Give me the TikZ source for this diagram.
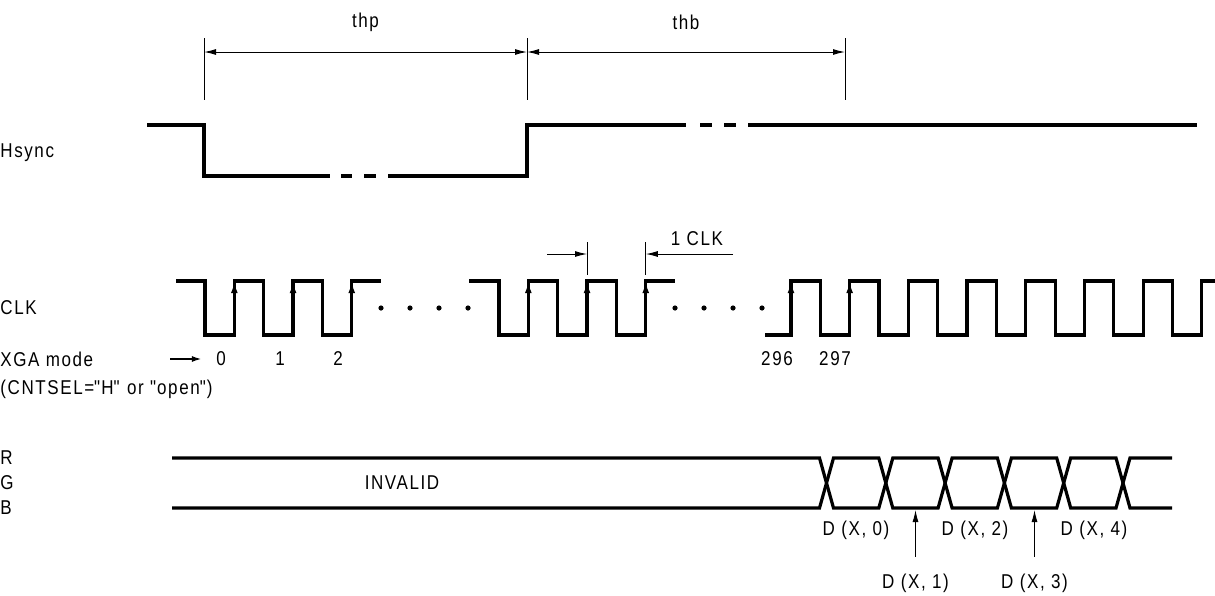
\documentclass[tikz,border=0pt]{standalone}
\usepackage{fontspec}
\setmainfont{Liberation Sans}[FakeStretch=0.85,LetterSpace=8]
\usetikzlibrary{arrows.meta}

\begin{document}
\begin{tikzpicture}[x=0.5pt,y=-0.5pt,
    wave line/.style={line width=1.6pt,line join=miter},
    dim line/.style={line width=0.5pt},
    dim arrow/.style={line width=0.5pt,-{Latex[length=6pt,width=3pt]}},
    both arrow/.style={line width=0.5pt,{Latex[length=6pt,width=3pt]}-{Latex[length=6pt,width=3pt]}},
    rise arrow/.style={line width=1.6pt,-{Latex[length=6pt,width=3.4pt]}},
    sig label/.style={anchor=west,inner sep=0pt},
    num label/.style={inner sep=0pt},
    dot/.style={circle,fill,inner sep=0pt,minimum size=2.6pt}]

    \useasboundingbox (0,0) rectangle (1215,595);

    % Hsync
    \node[sig label] (hsync) at (0,153) {Hsync};
    \draw[wave line] (147,125) -- (204,125) -- (204,176) -- (330,176);
    \draw[wave line] (341,176) -- (352,176) (364,176) -- (376,176);
    \draw[wave line] (388,176) -- (527,176) -- (527,125) -- (686,125);
    \draw[wave line] (700,125) -- (712,125) (724,125) -- (736,125);
    \draw[wave line] (748,125) -- (1197,125);

    \coordinate (hp0) at (204,52);
    \coordinate (hp1) at (527,52);
    \coordinate (hp2) at (845,52);
    \foreach \p in {hp0,hp1,hp2}
        \draw[dim line] ([yshift=7pt]\p) -- ([yshift=-24pt]\p);
    \draw[both arrow] (hp0) -- (hp1);
    \draw[both arrow] (hp1) -- (hp2);
    \node (thp) at (365.5,22) {thp};
    \node (thb) at (686,22) {thb};

    % CLK
    \node[sig label] (clk) at (0,308) {CLK};
    \draw[wave line] (176,281) -- (205,281)
        \foreach \x in {205,263.7,322.4} { -- (\x,281) -- (\x,335) -- (\x+29.35,335) -- (\x+29.35,281) }
        -- (381,281);
    \draw[wave line] (469,281) -- (499,281)
        \foreach \x in {499,557.7,616.4} { -- (\x,281) -- (\x,335) -- (\x+29.35,335) -- (\x+29.35,281) }
        -- (675,281);
    \draw[wave line] (765,335) -- (791,335) -- (791,281)
        \foreach \x in {820.3,879,937.7,996.4,1055.1,1113.8,1172.5} { -- (\x,281) -- (\x,335) -- (\x+29.35,335) -- (\x+29.35,281) }
        -- (1215,281);
    \foreach \x in {234.35,293.05,351.75,528.35,587.05,645.75,791,849.65}
        \draw[rise arrow] (\x,335) -- (\x,281);
    \foreach \x [count=\i] in {381,410,439,468,675,704,733,762}
        \node[dot] (dot\i) at (\x,308) {};

    \coordinate (ck0) at (587.05,254);
    \coordinate (ck1) at (645.75,254);
    \coordinate (ck0 tail) at (547,254);
    \coordinate (ck1 tail) at (733,254);
    \foreach \p in {ck0,ck1}
        \draw[dim line] ([yshift=6pt]\p) -- ([yshift=-10.5pt]\p);
    \draw[dim arrow] (ck0 tail) -- (ck0);
    \draw[dim arrow] (ck1 tail) -- (ck1);
    \node (one clk) at (697,239) {1 CLK};

    \node[sig label] (xga) at (0,359) {XGA mode};
    \node[sig label] (cntsel) at (0,389) {(CNTSEL=\textquotedbl H\textquotedbl{} or \textquotedbl open\textquotedbl)};
    \node[num label] (n0) at (221,359) {0};
    \node[num label] (n1) at (280,359) {1};
    \node[num label] (n2) at (338,359) {2};
    \node[num label] (n296) at (777,359) {296};
    \node[num label] (n297) at (835,359) {297};
    \coordinate (xga tail) at (170,359);
    \draw[line width=0.9pt,-{Latex[length=5pt,width=3pt]}] (xga tail) -- ([xshift=-7pt]n0.west);

    % RGB
    \node[sig label] (r) at (0,458) {R};
    \node[sig label] (g) at (0,483) {G};
    \node[sig label] (b) at (0,508) {B};
    \node (invalid) at (402,483) {INVALID};
    \draw[wave line] (172,458) -- (819.5,458) -- (833.5,508) -- (878.8,508) -- (892.8,458)
        -- (938.1,458) -- (952.1,508) -- (997.4,508) -- (1011.4,458) -- (1056.7,458)
        -- (1070.7,508) -- (1116,508) -- (1130,458) -- (1172,458);
    \draw[wave line] (172,508) -- (819.5,508) -- (833.5,458) -- (878.8,458) -- (892.8,508)
        -- (938.1,508) -- (952.1,458) -- (997.4,458) -- (1011.4,508) -- (1056.7,508)
        -- (1070.7,458) -- (1116,458) -- (1130,508) -- (1172,508);

    \node (d0) at (856,530) {D (X, 0)};
    \node (d2) at (975,530) {D (X, 2)};
    \node (d4) at (1094,530) {D (X, 4)};
    \node (d1) at (915.5,583) {D (X, 1)};
    \node (d3) at (1034.5,583) {D (X, 3)};
    \coordinate (d1 tip) at (915.5,510);
    \coordinate (d3 tip) at (1034.5,510);
    \draw[dim arrow] ([yshift=5pt]d1.north) -- (d1 tip);
    \draw[dim arrow] ([yshift=5pt]d3.north) -- (d3 tip);
\end{tikzpicture}
\end{document}
